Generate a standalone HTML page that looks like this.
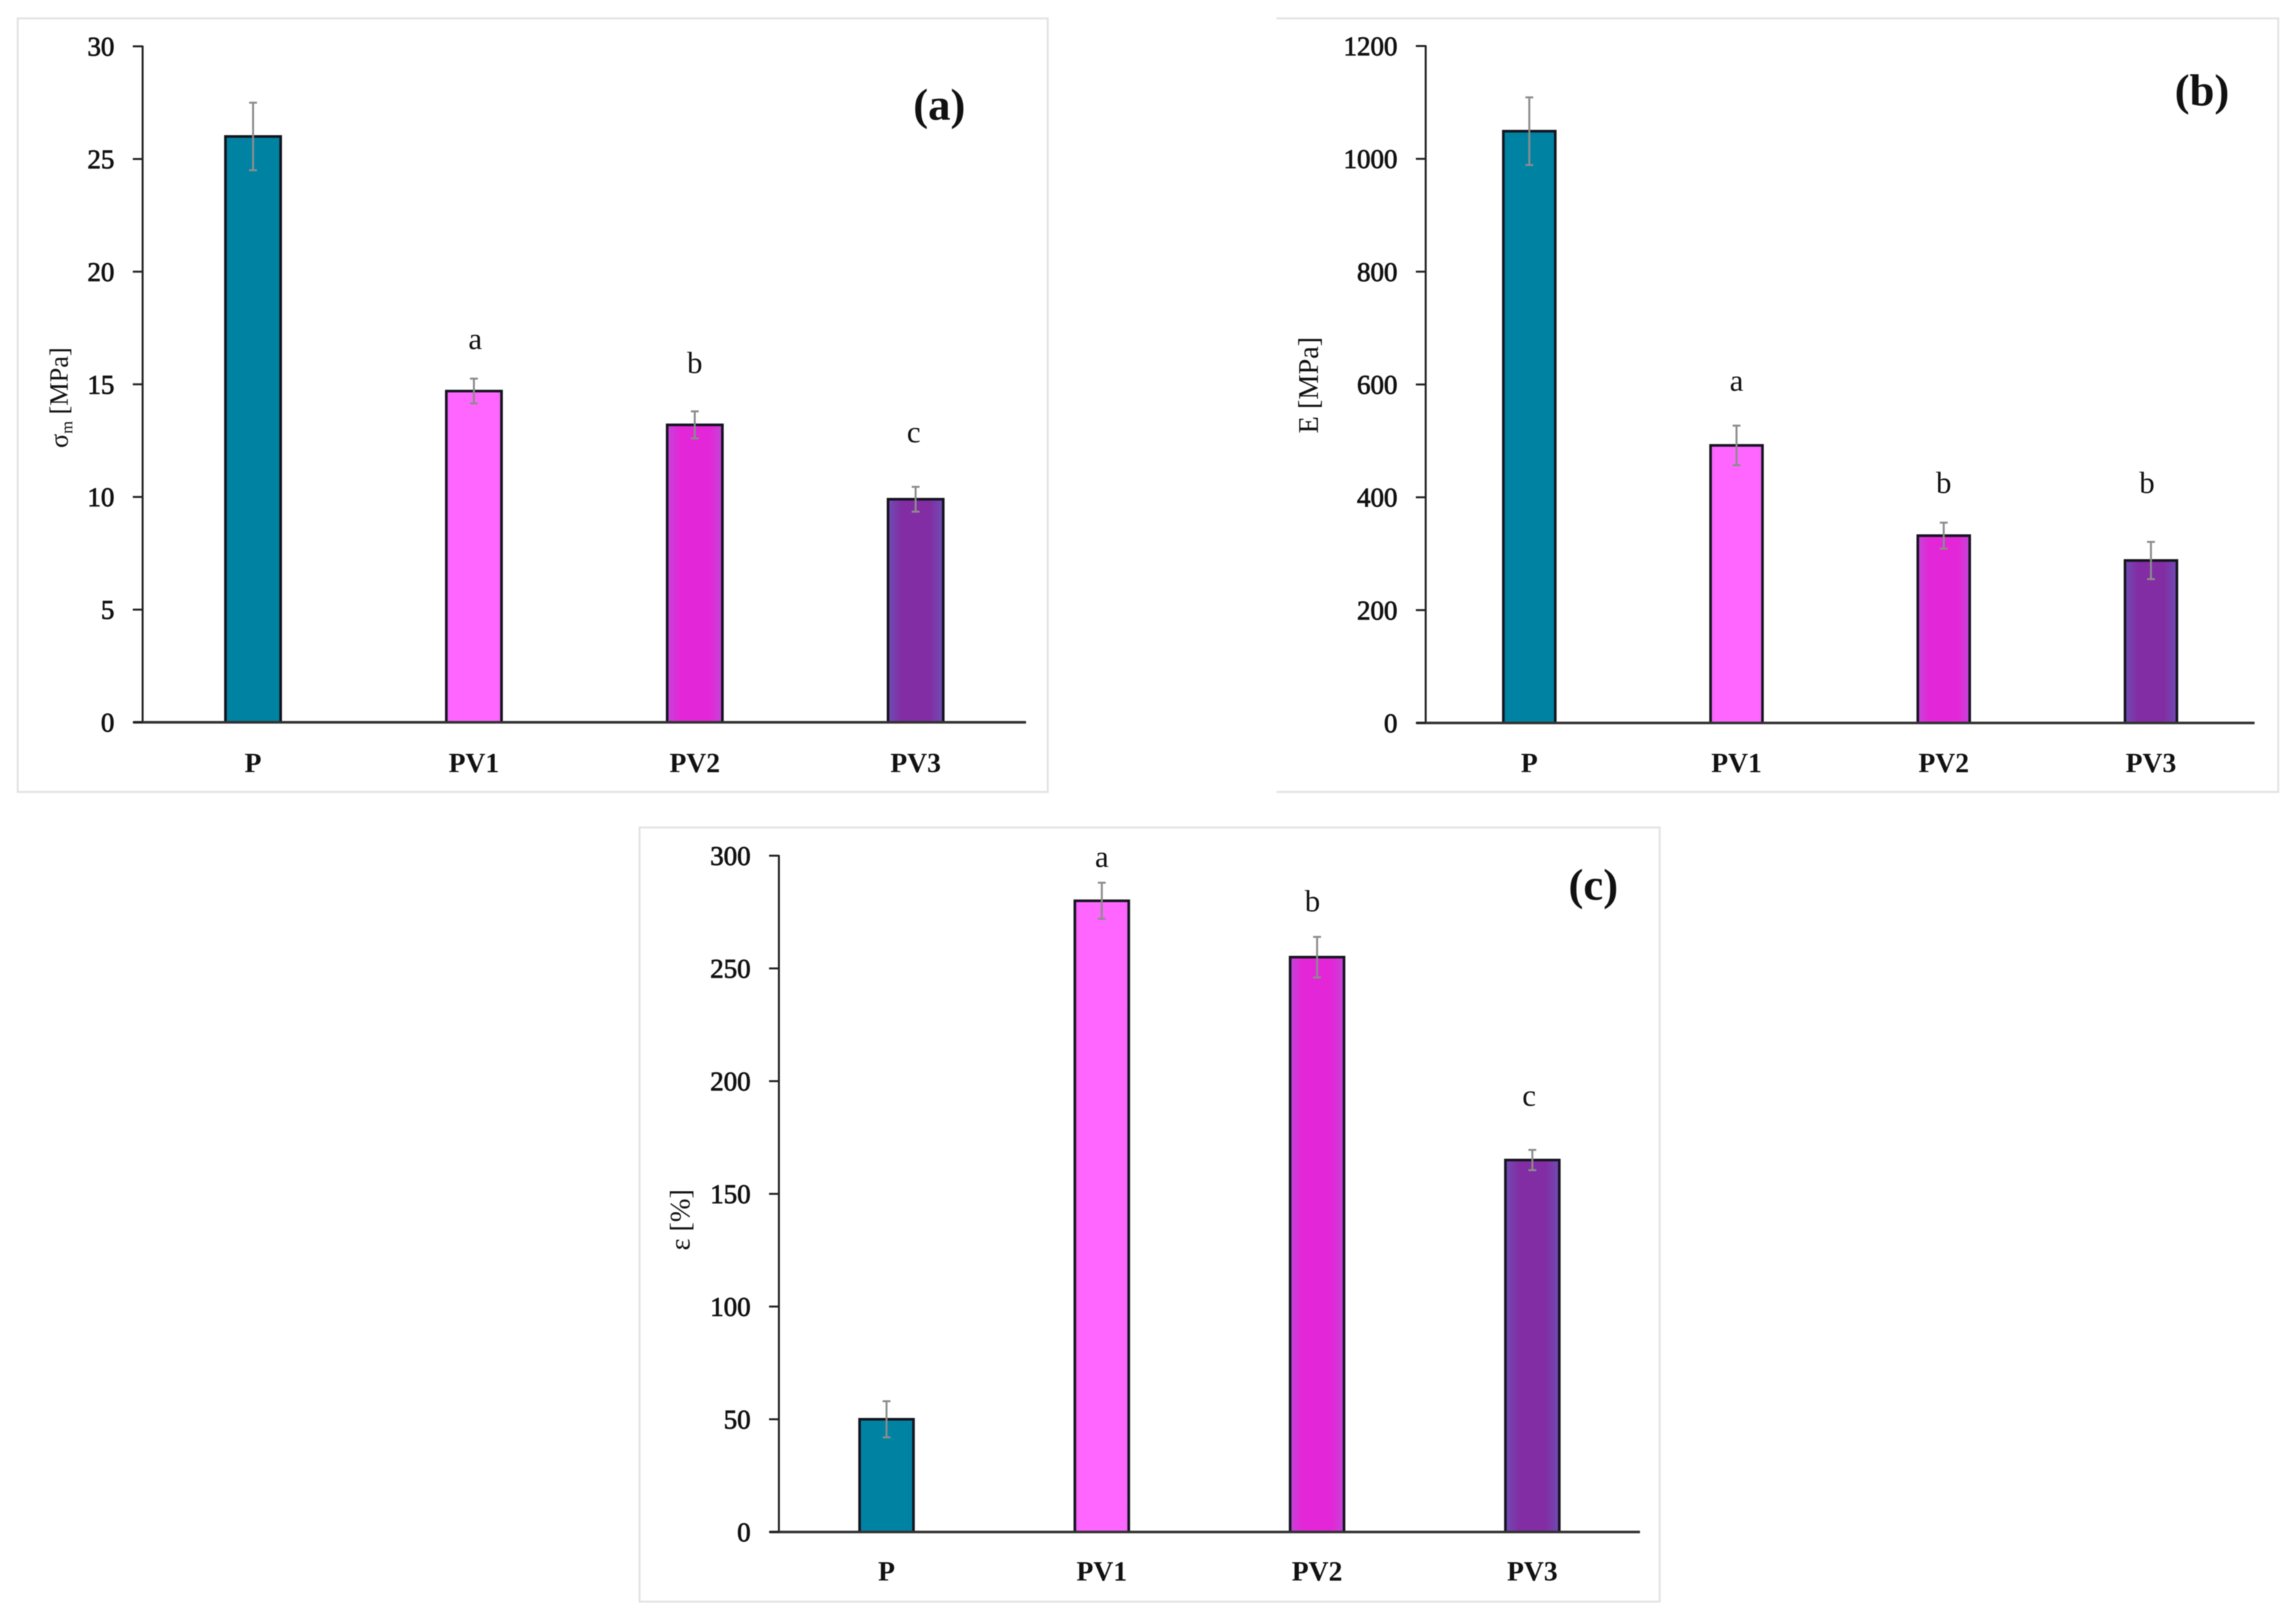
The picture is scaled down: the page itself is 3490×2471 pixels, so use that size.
<!DOCTYPE html>
<html lang="en">
<head>
<meta charset="utf-8">
<title>Mechanical properties bar charts</title>
<style>
html,body{margin:0;padding:0;background:#fff;width:3490px;height:2471px;overflow:hidden}
svg{display:block;position:absolute;left:0;top:0}
text{font-family:"Liberation Serif","DejaVu Serif",serif;fill:#111}
.tick{font-size:41px;stroke:#111;stroke-width:1.1px}
.cat{font-size:42px;font-weight:bold}
.sig{font-size:47px}
.title{font-size:43px}
.tag{font-size:68px;font-weight:bold}
</style>
</head>
<body>
<svg id="figure" xmlns="http://www.w3.org/2000/svg" width="3490" height="2471" viewBox="0 0 3490 2471">
  <defs>
    <linearGradient id="g0" x1="0" x2="1" y1="0" y2="0"><stop offset="0" stop-color="#0083A3"/><stop offset="1" stop-color="#0083A3"/></linearGradient>
    <linearGradient id="g1" x1="0" x2="1" y1="0" y2="0"><stop offset="0" stop-color="#F266F8"/><stop offset=".1" stop-color="#FF66FF"/><stop offset=".9" stop-color="#FF66FF"/><stop offset="1" stop-color="#F266F8"/></linearGradient>
    <linearGradient id="g2" x1="0" x2="1" y1="0" y2="0"><stop offset="0" stop-color="#C245D8"/><stop offset=".22" stop-color="#E327D8"/><stop offset=".78" stop-color="#E327D8"/><stop offset="1" stop-color="#C245D8"/></linearGradient>
    <linearGradient id="g3" x1="0" x2="1" y1="0" y2="0"><stop offset="0" stop-color="#6F4CB4"/><stop offset=".25" stop-color="#822DA3"/><stop offset=".75" stop-color="#822DA3"/><stop offset="1" stop-color="#6F4CB4"/></linearGradient>
  </defs>
  <g id="root" style="filter:blur(.9px)"></g>
</svg>
<script>
const categories = ['P', 'PV1', 'PV2', 'PV3'];

const strengthTicks = [0, 5, 10, 15, 20, 25, 30];
const strengthValues = [26, 14.7, 13.2, 9.9];
const strengthErrors = [1.5, 0.55, 0.6, 0.55];
const strengthLetters = ['', 'a', 'b', 'c'];
const strengthLetterLevels = [0, 16.57, 15.5, 12.43];

const modulusTicks = [0, 200, 400, 600, 800, 1000, 1200];
const modulusValues = [1049, 492, 332, 288];
const modulusErrors = [60, 35, 23, 33];
const modulusLetters = ['', 'a', 'b', 'b'];
const modulusLetterLevels = [0, 589, 408, 408];

const elongationTicks = [0, 50, 100, 150, 200, 250, 300];
const elongationValues = [50, 280, 255, 165];
const elongationErrors = [8, 8, 9, 4.5];
const elongationLetters = ['', 'a', 'b', 'c'];
const elongationLetterLevels = [0, 295, 275.4, 189];

const NS = 'http://www.w3.org/2000/svg';
const root = document.getElementById('root');

function make(parent, tag, attrs, txt) {
  const el = document.createElementNS(NS, tag);
  for (const k in attrs) el.setAttribute(k, attrs[k]);
  if (txt !== undefined) el.textContent = txt;
  parent.appendChild(el);
  return el;
}

function drawPanel(cfg) {
  const g = make(root, 'g', {});
  
  

  const maxTick = Math.max(...cfg.ticks);
  const yScale = v => cfg.y0 - (v / maxTick) * (cfg.y0 - cfg.yTop);
  const band = (cfg.xRight - cfg.xAxis) / categories.length;
  const xScale = i => cfg.xAxis + band * (i + 0.5);

  if (cfg.leftBorder) {
    const frame = make(g, 'rect', {x: cfg.fx, y: cfg.fy, width: cfg.fw, height: cfg.fh, fill: '#fff', stroke: '#e3e3e3', 'stroke-width': 3});
    
    
  } else {
    const frame = make(g, 'path', {d: 'M' + cfg.fx + ' ' + cfg.fy + 'H' + (cfg.fx + cfg.fw) + 'V' + (cfg.fy + cfg.fh) + 'H' + cfg.fx, fill: '#fff', stroke: '#e3e3e3', 'stroke-width': 3});
    
    
  }

  categories.forEach((c, i) => {
    const x = xScale(i);
    const top = yScale(cfg.values[i]);
    const bar = make(g, 'rect', {x: x - cfg.barW / 2, y: top, width: cfg.barW, height: cfg.y0 - top, fill: 'url(#g' + i + ')', stroke: '#14141e', 'stroke-width': 4});
    
    
  });

  const yAxis = make(g, 'line', {x1: cfg.xAxis, x2: cfg.xAxis, y1: cfg.yTop - 1, y2: cfg.y0, stroke: '#222', 'stroke-width': 3});
  
  

  const xAxis = make(g, 'line', {x1: cfg.xAxis - 14, x2: cfg.xRight, y1: cfg.y0, y2: cfg.y0, stroke: '#333', 'stroke-width': 4});
  
  

  cfg.ticks.forEach(t => {
    const y = yScale(t);
    const mark = make(g, 'line', {x1: cfg.xAxis - 15, x2: cfg.xAxis, y1: y, y2: y, stroke: '#222', 'stroke-width': 3});
    
    
    const label = make(g, 'text', {x: cfg.xAxis - 43, y: y + 14, 'text-anchor': 'end', class: 'tick'}, String(t));
    
    
  });

  categories.forEach((c, i) => {
    const x = xScale(i);
    const hi = yScale(cfg.values[i] + cfg.errors[i]);
    const lo = yScale(cfg.values[i] - cfg.errors[i]);
    const err = make(g, 'path', {d: 'M' + (x - 6) + ' ' + hi + 'H' + (x + 6) + 'M' + x + ' ' + hi + 'V' + lo + 'M' + (x - 6) + ' ' + lo + 'H' + (x + 6), fill: 'none', stroke: '#8c8c8c', 'stroke-width': 3});
    
    

    const catLabel = make(g, 'text', {x: x, y: cfg.catY, 'text-anchor': 'middle', class: 'cat'}, c);
    
    

    if (cfg.letters[i]) {
      const sig = make(g, 'text', {x: x + (cfg.letterNudge[i] || 0), y: yScale(cfg.letterLevels[i]), 'text-anchor': 'middle', class: 'sig'}, cfg.letters[i]);
      
      
    }
  });

  const title = make(g, 'text', {transform: 'translate(' + cfg.titleX + ' ' + cfg.titleY + ') rotate(-90)', 'text-anchor': 'middle', class: 'title', 'font-size': cfg.titleSize});
  title.style.fontSize = cfg.titleSize + 'px';
  
  
  make(title, 'tspan', {}, cfg.titleMain);
  if (cfg.titleSub) {
    make(title, 'tspan', {'font-size': 25, dy: 7}, cfg.titleSub);
    make(title, 'tspan', {dy: -7}, cfg.titleRest);
  }

  const tag = make(g, 'text', {x: cfg.tagX, y: cfg.tagY, 'text-anchor': 'middle', class: 'tag'}, cfg.tag);
  
  
}

drawPanel({
  id: 'chart-a-strength', ticks: strengthTicks, values: strengthValues, errors: strengthErrors,
  letters: strengthLetters, letterLevels: strengthLetterLevels, letterNudge: {1: 2, 3: -3},
  fx: 27, fy: 28, fw: 1567, fh: 1177, leftBorder: true,
  xAxis: 217, xRight: 1561, yTop: 70.5, y0: 1099, barW: 84, catY: 1175,
  titleX: 103, titleY: 605, titleSize: 40, titleMain: '\u03C3', titleSub: 'm', titleRest: ' [MPa]',
  tag: '(a)', tagX: 1429, tagY: 182
});

drawPanel({
  id: 'chart-b-modulus', ticks: modulusTicks, values: modulusValues, errors: modulusErrors,
  letters: modulusLetters, letterLevels: modulusLetterLevels, letterNudge: {3: -6},
  fx: 1942, fy: 28, fw: 1524, fh: 1177, leftBorder: false,
  xAxis: 2169, xRight: 3430, yTop: 70, y0: 1100, barW: 79, catY: 1175,
  titleX: 2005, titleY: 586, titleSize: 43, titleMain: 'E [MPa]',
  tag: '(b)', tagX: 3350, tagY: 160
});

drawPanel({
  id: 'chart-c-elongation', ticks: elongationTicks, values: elongationValues, errors: elongationErrors,
  letters: elongationLetters, letterLevels: elongationLetterLevels, letterNudge: {2: -7, 3: -5},
  fx: 973, fy: 1259, fw: 1552, fh: 1178, leftBorder: true,
  xAxis: 1185, xRight: 2495, yTop: 1302, y0: 2331, barW: 82, catY: 2405,
  titleX: 1049, titleY: 1856, titleSize: 43, titleMain: '\u03B5 [%]',
  tag: '(c)', tagX: 2424, tagY: 1369
});
</script>
</body>
</html>
